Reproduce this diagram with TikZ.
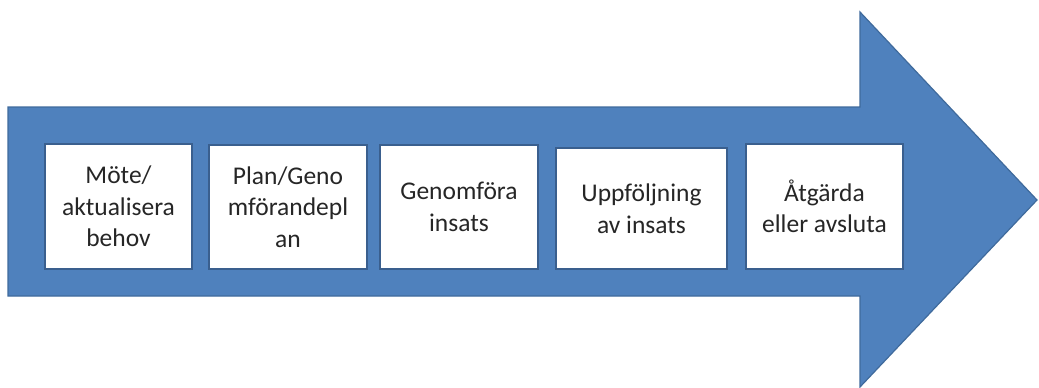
\documentclass[tikz,border=0pt]{standalone}
\usepackage{fontspec}
\setmainfont{Carlito}
\definecolor{arrowfill}{HTML}{4F81BD}
\definecolor{arrowline}{HTML}{3F6A9C}
\definecolor{boxline}{HTML}{3A5F8E}
\definecolor{steptext}{HTML}{262626}
\tikzset{
  stepbox/.style={draw=boxline, line width=1.6pt, fill=white, align=center,
    text=steptext, inner sep=0pt, font=\fontsize{25.5}{31.5}\selectfont},
}

\begin{document}
\begin{tikzpicture}[x=1pt,y=-1pt]
	\useasboundingbox (0,0) rectangle (1039,388);
	% big arrow
	\draw[arrowline, fill=arrowfill, line width=1.2pt, line join=miter]
		(8,107) -- (860,107) -- (860,12) -- (1037,200) -- (860,387) -- (860,296) -- (8,296) -- cycle;
	% steps
	\node[stepbox, minimum width=147, minimum height=125] (moete) at (118.5,206.5) {Möte/\\aktualisera\\behov};
	\node[stepbox, minimum width=158, minimum height=124] (plan) at (288,207) {Plan/Geno\\mförandepl\\an};
	\node[stepbox, minimum width=158, minimum height=124] (genom) at (459,207) {Genomföra\\insats};
	\node[stepbox, minimum width=171, minimum height=121] (uppf) at (641.5,208.5) {Uppföljning\\av insats};
	\node[stepbox, minimum width=157, minimum height=125] (atg) at (824.5,206.5) {Åtgärda\\eller avsluta};
\end{tikzpicture}
\end{document}
